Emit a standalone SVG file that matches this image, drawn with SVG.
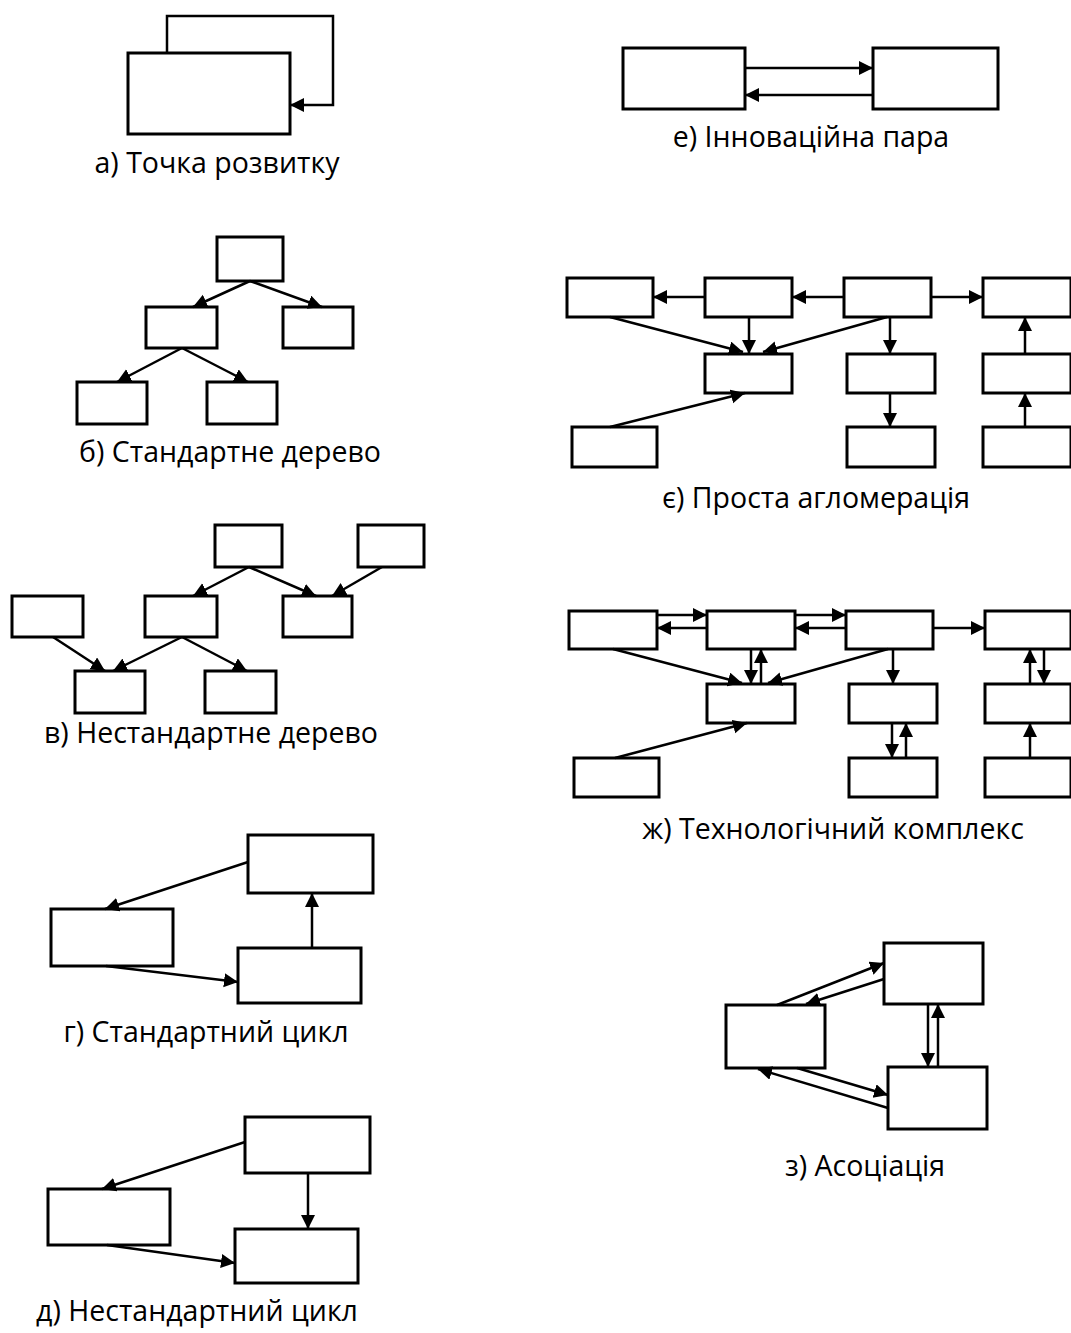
<svg xmlns="http://www.w3.org/2000/svg" width="1071" height="1333" viewBox="0 0 1071 1333">
<style>
.n{fill:#fff;stroke:#000;stroke-width:3}
.c{fill:none;stroke:#000;stroke-width:2.5}
.a{marker-end:url(#ah)}
.t{font-family:"Open Sans","Noto Sans",sans-serif;font-size:28.5px;fill:#000;text-anchor:middle}
</style>
<defs>
<marker id="ah" markerUnits="userSpaceOnUse" markerWidth="15" markerHeight="15" refX="14" refY="7" orient="auto">
<path d="M0,0 L14,7 L0,14 z" fill="#000"/>
</marker>
</defs>
<rect width="1071" height="1333" fill="#fff"/>

<!-- a -->
<g id="a-node"><rect class="n" x="128" y="53" width="162" height="81"/></g>
<g id="a-conn"><path class="c a" d="M167,53 V16 H333 V105 H290"/></g>
<text class="t" x="217" y="173">а) Точка розвитку</text>

<!-- e -->
<g id="e-n1"><rect class="n" x="623" y="48" width="122" height="61"/></g>
<g id="e-n2"><rect class="n" x="873" y="48" width="125" height="61"/></g>
<g id="e-conn">
<line class="c a" x1="745" y1="68" x2="873" y2="68"/>
<line class="c a" x1="873" y1="95" x2="745" y2="95"/>
</g>
<text class="t" x="811" y="147">е) Інноваційна пара</text>

<!-- b -->
<g id="b-n1"><rect class="n" x="217" y="237" width="66" height="44"/></g>
<g id="b-n2"><rect class="n" x="146" y="307" width="71" height="41"/></g>
<g id="b-n3"><rect class="n" x="283" y="307" width="70" height="41"/></g>
<g id="b-n4"><rect class="n" x="77" y="382" width="70" height="42"/></g>
<g id="b-n5"><rect class="n" x="207" y="382" width="70" height="42"/></g>
<g id="b-conn">
<line class="c a" x1="250" y1="281" x2="193" y2="307"/>
<line class="c a" x1="250" y1="281" x2="322" y2="307"/>
<line class="c a" x1="182" y1="348" x2="117" y2="382"/>
<line class="c a" x1="182" y1="348" x2="248" y2="382"/>
</g>
<text class="t" x="230" y="462">б) Стандартне дерево</text>

<!-- v -->
<g id="v-n1"><rect class="n" x="215" y="525" width="67" height="42"/></g>
<g id="v-n2"><rect class="n" x="358" y="525" width="66" height="42"/></g>
<g id="v-n3"><rect class="n" x="12" y="596" width="71" height="41"/></g>
<g id="v-n4"><rect class="n" x="145" y="596" width="72" height="41"/></g>
<g id="v-n5"><rect class="n" x="283" y="596" width="69" height="41"/></g>
<g id="v-n6"><rect class="n" x="75" y="671" width="70" height="42"/></g>
<g id="v-n7"><rect class="n" x="205" y="671" width="71" height="42"/></g>
<g id="v-conn">
<line class="c a" x1="249" y1="567" x2="193" y2="596"/>
<line class="c a" x1="249" y1="567" x2="316" y2="596"/>
<line class="c a" x1="382" y1="567" x2="332" y2="596"/>
<line class="c a" x1="53" y1="637" x2="105" y2="671"/>
<line class="c a" x1="182" y1="637" x2="113" y2="671"/>
<line class="c a" x1="182" y1="637" x2="247" y2="671"/>
</g>
<text class="t" x="211" y="743">в) Нестандартне дерево</text>

<!-- ye -->
<g id="ye-n1"><rect class="n" x="567" y="278" width="86" height="39"/></g>
<g id="ye-n2"><rect class="n" x="705" y="278" width="87" height="39"/></g>
<g id="ye-n3"><rect class="n" x="844" y="278" width="87" height="39"/></g>
<g id="ye-n4"><rect class="n" x="983" y="278" width="88" height="39"/></g>
<g id="ye-n5"><rect class="n" x="705" y="354" width="87" height="39"/></g>
<g id="ye-n6"><rect class="n" x="847" y="354" width="88" height="39"/></g>
<g id="ye-n7"><rect class="n" x="983" y="354" width="88" height="39"/></g>
<g id="ye-n8"><rect class="n" x="572" y="427" width="85" height="40"/></g>
<g id="ye-n9"><rect class="n" x="847" y="427" width="88" height="40"/></g>
<g id="ye-n10"><rect class="n" x="983" y="427" width="88" height="40"/></g>
<g id="ye-conn">
<line class="c a" x1="705" y1="297" x2="653" y2="297"/>
<line class="c a" x1="844" y1="297" x2="792" y2="297"/>
<line class="c a" x1="931" y1="297" x2="983" y2="297"/>
<line class="c a" x1="749" y1="317" x2="749" y2="354"/>
<line class="c a" x1="610" y1="317" x2="743" y2="352"/>
<line class="c a" x1="887" y1="317" x2="763" y2="352"/>
<line class="c a" x1="890" y1="317" x2="890" y2="354"/>
<line class="c a" x1="890" y1="393" x2="890" y2="427"/>
<line class="c a" x1="1025" y1="354" x2="1025" y2="317"/>
<line class="c a" x1="1025" y1="427" x2="1025" y2="393"/>
<line class="c a" x1="610" y1="427" x2="745" y2="393"/>
</g>
<text class="t" x="816" y="508">є) Проста агломерація</text>

<!-- zh -->
<g id="zh-n1"><rect class="n" x="569" y="611" width="88" height="38"/></g>
<g id="zh-n2"><rect class="n" x="707" y="611" width="88" height="38"/></g>
<g id="zh-n3"><rect class="n" x="846" y="611" width="87" height="38"/></g>
<g id="zh-n4"><rect class="n" x="985" y="611" width="86" height="38"/></g>
<g id="zh-n5"><rect class="n" x="707" y="684" width="88" height="39"/></g>
<g id="zh-n6"><rect class="n" x="849" y="684" width="88" height="39"/></g>
<g id="zh-n7"><rect class="n" x="985" y="684" width="86" height="39"/></g>
<g id="zh-n8"><rect class="n" x="574" y="758" width="85" height="39"/></g>
<g id="zh-n9"><rect class="n" x="849" y="758" width="88" height="39"/></g>
<g id="zh-n10"><rect class="n" x="985" y="758" width="86" height="39"/></g>
<g id="zh-conn">
<line class="c a" x1="657" y1="615" x2="707" y2="615"/>
<line class="c a" x1="707" y1="628" x2="657" y2="628"/>
<line class="c a" x1="795" y1="615" x2="846" y2="615"/>
<line class="c a" x1="846" y1="628" x2="795" y2="628"/>
<line class="c a" x1="933" y1="628" x2="985" y2="628"/>
<line class="c a" x1="751" y1="649" x2="751" y2="684"/>
<line class="c a" x1="761" y1="684" x2="761" y2="649"/>
<line class="c a" x1="613" y1="649" x2="742" y2="683"/>
<line class="c a" x1="888" y1="649" x2="768" y2="683"/>
<line class="c a" x1="893" y1="649" x2="893" y2="684"/>
<line class="c a" x1="892" y1="723" x2="892" y2="758"/>
<line class="c a" x1="906" y1="758" x2="906" y2="723"/>
<line class="c a" x1="1030" y1="684" x2="1030" y2="649"/>
<line class="c a" x1="1044" y1="649" x2="1044" y2="684"/>
<line class="c a" x1="1030" y1="758" x2="1030" y2="723"/>
<line class="c a" x1="615" y1="758" x2="747" y2="723"/>
</g>
<text class="t" x="833" y="839">ж) Технологічний комплекс</text>

<!-- g -->
<g id="g-n1"><rect class="n" x="248" y="835" width="125" height="58"/></g>
<g id="g-n2"><rect class="n" x="51" y="909" width="122" height="57"/></g>
<g id="g-n3"><rect class="n" x="238" y="948" width="123" height="55"/></g>
<g id="g-conn">
<line class="c a" x1="248" y1="862" x2="105" y2="909"/>
<line class="c a" x1="106" y1="966" x2="238" y2="982"/>
<line class="c a" x1="312" y1="948" x2="312" y2="893"/>
</g>
<text class="t" x="206" y="1042">г) Стандартний цикл</text>

<!-- d -->
<g id="d-n1"><rect class="n" x="245" y="1117" width="125" height="56"/></g>
<g id="d-n2"><rect class="n" x="48" y="1189" width="122" height="56"/></g>
<g id="d-n3"><rect class="n" x="235" y="1229" width="123" height="54"/></g>
<g id="d-conn">
<line class="c a" x1="245" y1="1142" x2="102" y2="1189"/>
<line class="c a" x1="107" y1="1245" x2="235" y2="1263"/>
<line class="c a" x1="308" y1="1173" x2="308" y2="1229"/>
</g>
<text class="t" x="197" y="1321">д) Нестандартний цикл</text>

<!-- z -->
<g id="z-n1"><rect class="n" x="884" y="943" width="99" height="61"/></g>
<g id="z-n2"><rect class="n" x="726" y="1005" width="99" height="63"/></g>
<g id="z-n3"><rect class="n" x="888" y="1067" width="99" height="62"/></g>
<g id="z-conn">
<line class="c a" x1="777" y1="1005" x2="884" y2="963"/>
<line class="c a" x1="884" y1="979" x2="806" y2="1004"/>
<line class="c a" x1="928" y1="1004" x2="928" y2="1067"/>
<line class="c a" x1="938" y1="1067" x2="938" y2="1004"/>
<line class="c a" x1="797" y1="1068" x2="888" y2="1095"/>
<line class="c a" x1="888" y1="1108" x2="758" y2="1069"/>
</g>
<text class="t" x="865" y="1176">з) Асоціація</text>
</svg>
